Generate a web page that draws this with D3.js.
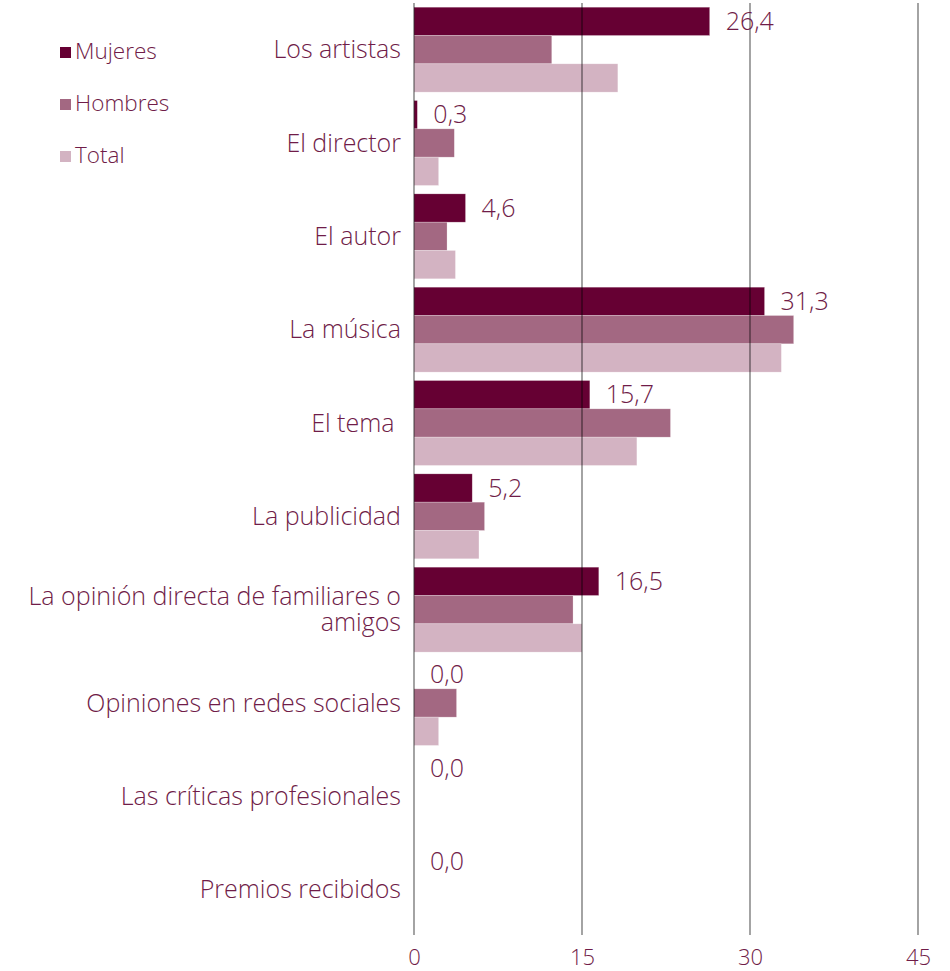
<!DOCTYPE html>
<html><head><meta charset="utf-8">
<script src="https://cdn.jsdelivr.net/npm/d3@7"></script>
<style>body{margin:0;background:#fff}svg{display:block}</style>
</head><body>
<script>
const categories = ["Los artistas","El director","El autor","La música","El tema ","La publicidad","La opinión directa de familiares o|amigos","Opiniones en redes sociales","Las críticas profesionales","Premios recibidos"];
const seriesNames = ["Mujeres","Hombres","Total"];
const mujeres = [26.4,0.3,4.6,31.3,15.7,5.2,16.5,0,0,0];
const hombres = [12.3,3.6,2.95,33.9,22.9,6.3,14.2,3.8,0,0];
const total = [18.2,2.2,3.7,32.8,19.9,5.8,15.0,2.2,0,0];
const xTicks = [0,15,30,45];
const colors = ["#660033","#a36882","#d3b3c2"];
const textColor = "#701c48";
const font = "'Open Sans', sans-serif";

const W = 950, H = 971;
const svg = d3.select("body").append("svg").attr("width",W).attr("height",H);

const x = d3.scaleLinear().domain([0,45]).range([414,918]);
const y = d3.scaleBand().domain(categories).range([3,936.3]).paddingInner(0.09).paddingOuter(0.045);
const ySub = d3.scaleBand().domain(seriesNames).range([0,y.bandwidth()]);
const seriesData = [mujeres,hombres,total];

const g = svg.append("g");
seriesNames.forEach((s,si)=>{
  g.selectAll(null).data(categories).join("rect")
    .attr("x",x(0))
    .attr("y",c=>y(c)+ySub(s))
    .attr("width",(c,i)=>Math.max(0,x(seriesData[si][i])-x(0)))
    .attr("height",ySub.bandwidth())
    .attr("fill",colors[si])
    .attr("stroke","#fff").attr("stroke-opacity",0.4).attr("stroke-width",0.6);
});

const grid = svg.append("g");
grid.selectAll("line").data(xTicks).join("line")
  .attr("x1",d=>x(d)).attr("x2",d=>x(d))
  .attr("y1",3).attr("y2",935)
  .attr("stroke","#000").attr("stroke-opacity",0.45).attr("stroke-width",1.6);

const xAxis = d3.axisBottom(x).tickValues(xTicks).tickSize(0).tickPadding(0);
const ax = svg.append("g").attr("transform","translate(0,957.5)").call(xAxis);
ax.select(".domain").remove();
ax.selectAll("text").attr("font-family",font).attr("font-weight",300).attr("font-size",22).attr("fill",textColor).attr("dy","0.35em");

const cl = svg.append("g");
categories.forEach(c=>{
  const lines = c.split("|");
  const cy = y(c)+y.bandwidth()/2;
  const t = cl.append("text").attr("text-anchor","end").attr("font-family",font).attr("font-weight",300)
    .attr("font-size",25).attr("fill",textColor).style("white-space","pre");
  lines.forEach((ln,i)=>{
    t.append("tspan").attr("x",401)
      .attr("y",cy + (i-(lines.length-1)/2)*26)
      .attr("dy","0.35em").text(ln);
  });
});

const fmt = v=>d3.format(".1f")(v).replace(".",",");
svg.append("g").selectAll("text").data(categories).join("text")
  .attr("x",(c,i)=>x(mujeres[i])+16)
  .attr("y",c=>y(c)+ySub("Mujeres")+ySub.bandwidth()/2)
  .attr("dy","0.35em")
  .attr("font-family",font).attr("font-weight",300).attr("font-size",25).attr("fill",textColor)
  .text((c,i)=>fmt(mujeres[i]));

const lg = svg.append("g");
seriesNames.forEach((s,i)=>{
  lg.append("rect").attr("x",60).attr("y",47+i*52).attr("width",11).attr("height",11).attr("fill",colors[i]);
  lg.append("text").attr("x",75).attr("y",51+i*52).attr("dy","0.35em")
    .attr("font-family",font).attr("font-weight",300).attr("font-size",22.5).attr("fill",textColor).text(s);
});
</script>
</body></html>
